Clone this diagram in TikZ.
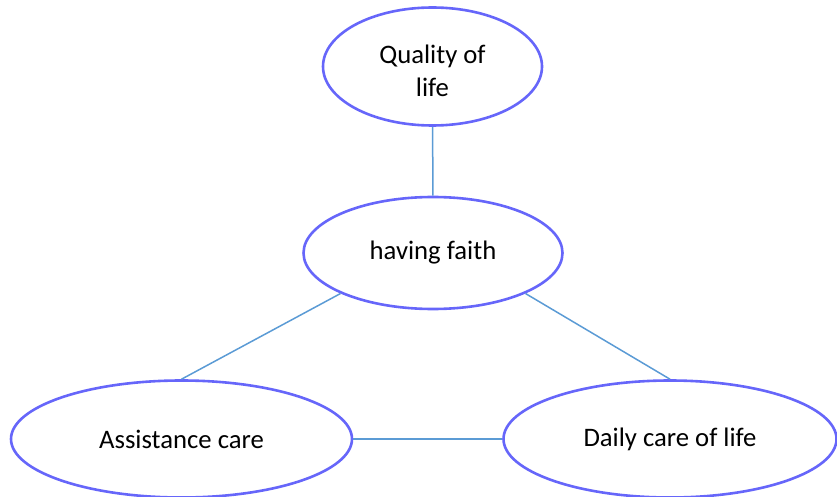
\documentclass[tikz,border=0pt]{standalone}
\usepackage{fontspec}
\setmainfont{Carlito}
\usetikzlibrary{shapes.geometric}
\definecolor{ellblue}{RGB}{102,102,250}
\definecolor{linkblue}{RGB}{91,155,213}
\tikzset{
  bubble/.style={ellipse, draw=ellblue, line width=2.6pt, fill=white, inner sep=0pt, align=center,
    font=\fontsize{26.7}{33}\selectfont},
  caption/.style={inner sep=0pt, align=center, font=\fontsize{26.7}{33}\selectfont},
  link/.style={draw=linkblue, line width=1.5pt}
}
\begin{document}
\begin{tikzpicture}[x=1pt,y=-1pt]
\useasboundingbox (0,0) rectangle (837,497);
\node[bubble, minimum width=219pt, minimum height=118pt] (q) at (432.5,66.5) {};
\node[caption] (qt) at (432.5,71) {Quality of\\life};
\node[bubble, minimum width=259pt, minimum height=112pt] (h) at (433,253) {having faith};
\node[bubble, minimum width=341pt, minimum height=117pt] (a) at (181.5,439) {Assistance care};
\node[bubble, minimum width=333pt, minimum height=117pt] (d) at (670,439) {Daily care of life};
\draw[link] (q) -- (h);
\draw[link] (h.south west) -- (a.north);
\draw[link] (h.south east) -- (d.north);
\draw[link] (a.east) -- (d.west);
\end{tikzpicture}
\end{document}
